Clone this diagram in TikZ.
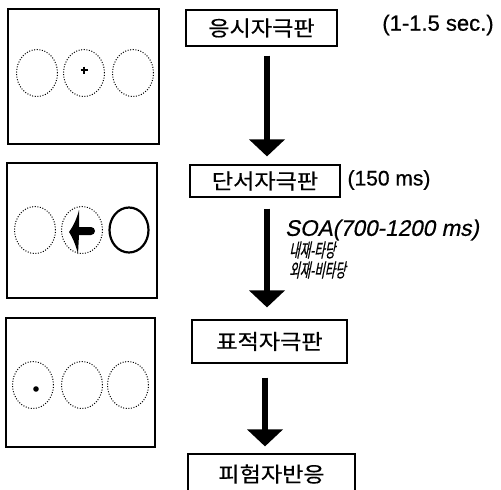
\documentclass[tikz,border=0pt]{standalone}
\usepackage{fontspec}
\setmainfont{Liberation Sans}
\newfontfamily\labfont[FakeBold=0.6]{Liberation Sans}
\newfontfamily\labitfont[FakeBold=0.6,FakeSlant=0.2]{Liberation Sans}
\newfontfamily\kr[FakeStretch=1.1,FakeBold=0.5]{Noto Sans CJK KR}
\newfontfamily\krit[FakeSlant=0.2,FakeStretch=0.6,FakeBold=0.6]{Noto Sans CJK KR}
\usetikzlibrary{arrows.meta,calc,shapes.geometric}
\begin{document}
\begin{tikzpicture}[x=1pt,y=-1pt,
  panel/.style={draw, line width=1.8pt, inner sep=0pt},
  stagebox/.style={draw, line width=1.2pt, inner sep=0pt, font=\kr\fontsize{21}{24}\selectfont},
  dotring/.style={draw=black, dash pattern=on 1pt off 1.6pt, line width=1pt, ellipse, inner sep=0pt, minimum width=41pt, minimum height=47pt},
  solidring/.style={draw, line width=2.2pt, ellipse, inner sep=0pt, minimum width=39pt, minimum height=45pt},
  bigarrow/.style={line width=6pt, -{Triangle[width=35pt,length=17pt]}},
  timelabel/.style={font=\labfont\fontsize{21}{24}\selectfont},
  condlabel/.style={anchor=west, inner sep=0pt, font=\krit\fontsize{19}{21}\selectfont}
]
\useasboundingbox (0,0) rectangle (501,490);
% left panels
\node[panel, minimum width=151pt, minimum height=135pt] (p1) at (83.5,76.5) {};
\node[panel, minimum width=150pt, minimum height=135pt] (p2) at (82,230.5) {};
\node[panel, minimum width=149pt, minimum height=129pt] (p3) at (80.5,382.5) {};
% panel 1 rings
\node[dotring] (r11) at (37,73) {};
\node[dotring] (r12) at (84,73) {};
\node[dotring] (r13) at (133,73) {};
\draw[line width=1.5pt] (80.5,70) -- (87.5,70) (84,66.5) -- (84,73.5);
% panel 2 rings
\node[dotring] (r21) at (35,230) {};
\node[dotring] (r22) at (82,230) {};
\node[solidring] (r23) at (129,230) {};
\fill (69,232) .. controls (74,225) and (77,218) .. (79,210)
  -- (79,227) -- (91,227) arc[start angle=-90,end angle=90,y radius=-4pt,x radius=4pt]
  -- (79,235) -- (78,254) .. controls (76,246) and (73,238) .. (69,232) -- cycle;
% panel 3 rings
\node[dotring] (r31) at (33,385) {};
\node[dotring] (r32) at (82,385) {};
\node[dotring] (r33) at (128,385) {};
\fill (36,389) circle[radius=2.8pt];
% stage boxes
\node[stagebox, minimum width=151pt, minimum height=36pt] (b1) at (261.5,28) {응시자극판};
\node[stagebox, minimum width=150pt, minimum height=32pt] (b2) at (265,181) {단서자극판};
\node[stagebox, minimum width=155pt, minimum height=43pt] (b3) at (269.5,341.5) {표적자극판};
\node[stagebox, minimum width=167pt, minimum height=40pt] (b4) at (271.5,474) {피험자반응};
% arrows
\draw[bigarrow] ([xshift=5.5pt,yshift=-9pt]b1.south) -- ([xshift=2pt,yshift=8pt]b2.north);
\draw[bigarrow] ([xshift=2pt,yshift=-11pt]b2.south) -- ([xshift=-2.5pt,yshift=12pt]b3.north);
\draw[bigarrow] ([xshift=-4.5pt,yshift=-14pt]b3.south) -- ([xshift=-6.5pt,yshift=7pt]b4.north);
% labels
\node[timelabel, font=\labfont\fontsize{22}{25}\selectfont] (t1) at (438,25) {(1-1.5 sec.)};
\node[timelabel] (t2) at (389,180) {(150 ms)};
\node[timelabel, font=\labitfont\fontsize{22.5}{26}\selectfont] (soa) at (382,230) {SOA(700-1200 ms)};
\node[condlabel] (c1) at (289,250) {내재-타당};
\node[condlabel] (c2) at (289,270) {외재-비타당};
\end{tikzpicture}
\end{document}
